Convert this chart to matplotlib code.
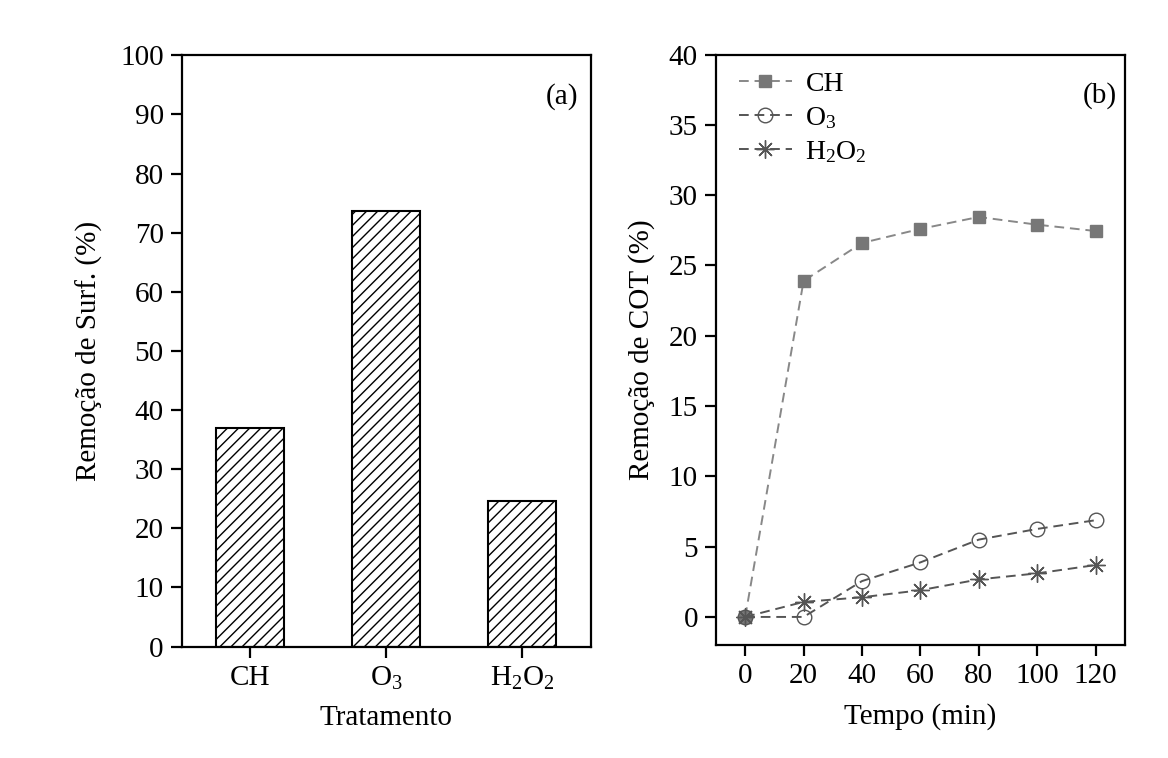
import numpy as np
import matplotlib
matplotlib.use("Agg")
import matplotlib.pyplot as plt

plt.rcParams['font.family'] = ['Liberation Serif', 'DejaVu Serif']
plt.rcParams['mathtext.fontset'] = 'custom'
plt.rcParams['mathtext.rm'] = 'Liberation Serif'
plt.rcParams['mathtext.it'] = 'Liberation Serif'
plt.rcParams['hatch.linewidth'] = 1.0
plt.rcParams['font.size'] = 21

## Dados painel (a)
tratamentos = ['CH', 'O$_3$', 'H$_2$O$_2$']
remocao_surf = [37.0, 73.7, 24.6]

## Dados painel (b)
tempo = [0, 20, 40, 60, 80, 100, 120]
cot_ch = [0.0, 23.9, 26.6, 27.6, 28.45, 27.9, 27.45]
cot_o3 = [0.0, 0.0, 2.55, 3.88, 5.5, 6.26, 6.88]
cot_h2o2 = [0.0, 1.07, 1.4, 1.9, 2.67, 3.1, 3.69]

fig = plt.figure(figsize=(11.68, 7.58), dpi=100)
ax1 = fig.add_axes([0.1556, 0.147, 0.350, 0.780])
ax2 = fig.add_axes([0.613, 0.149, 0.350, 0.779])

for ax in (ax1, ax2):
    for s in ax.spines.values():
        s.set_linewidth(1.6)
    ax.tick_params(direction='out', length=8, width=1.6, labelsize=21, pad=5)

## Gráfico (a)
pos = np.arange(1, len(tratamentos) + 1)
ax1.bar(pos, remocao_surf, width=0.5, color='white', edgecolor='black',
        linewidth=1.5, hatch='///')
ax1.set_xlim(0.5, 3.5)
ax1.set_ylim(0, 100)
ax1.set_xticks(pos)
ax1.set_xticklabels(tratamentos)
ax1.set_yticks(np.arange(0, 101, 10))
ax1.set_xlabel('Tratamento', fontsize=21)
ax1.xaxis.set_label_coords(0.5, -0.098)
ax1.set_ylabel('Remoção de Surf. (%)', fontsize=21, labelpad=12)
ax1.text(0.97, 0.93, '(a)', transform=ax1.transAxes, ha='right', va='center', fontsize=21)

## Gráfico (b)
ax2.plot(tempo, cot_ch, linestyle='--', dashes=(5, 3), color='#888888', linewidth=1.4,
         marker='s', markersize=9, markerfacecolor='#777777', markeredgecolor='#777777',
         label='CH')
ax2.plot(tempo, cot_o3, linestyle='--', dashes=(5, 3), color='#555555', linewidth=1.4,
         marker='o', markersize=10.5, markerfacecolor='none', markeredgecolor='#555555',
         markeredgewidth=1.0, label='O$_3$')
ax2.plot(tempo, cot_h2o2, linestyle='--', dashes=(5, 3), color='#555555', linewidth=1.4,
         marker=(8, 2, 0), markersize=13, markeredgecolor='#555555',
         markeredgewidth=1.0, label='H$_2$O$_2$')
ax2.set_xlim(-10, 130)
ax2.set_ylim(-2, 40)
ax2.set_xticks(tempo)
ax2.set_yticks(np.arange(0, 41, 5))
ax2.set_xlabel('Tempo (min)', fontsize=21)
ax2.xaxis.set_label_coords(0.5, -0.098)
ax2.set_ylabel('Remoção de COT (%)', fontsize=21, labelpad=10)
ax2.text(0.98, 0.93, '(b)', transform=ax2.transAxes, ha='right', va='center', fontsize=21)
ax2.legend(loc='upper left', bbox_to_anchor=(0.015, 1.0), frameon=False, fontsize=20,
           handlelength=1.9, borderaxespad=0.2, labelspacing=0.3, handletextpad=0.5)

fig.savefig('out.png', dpi=100, facecolor='white')
